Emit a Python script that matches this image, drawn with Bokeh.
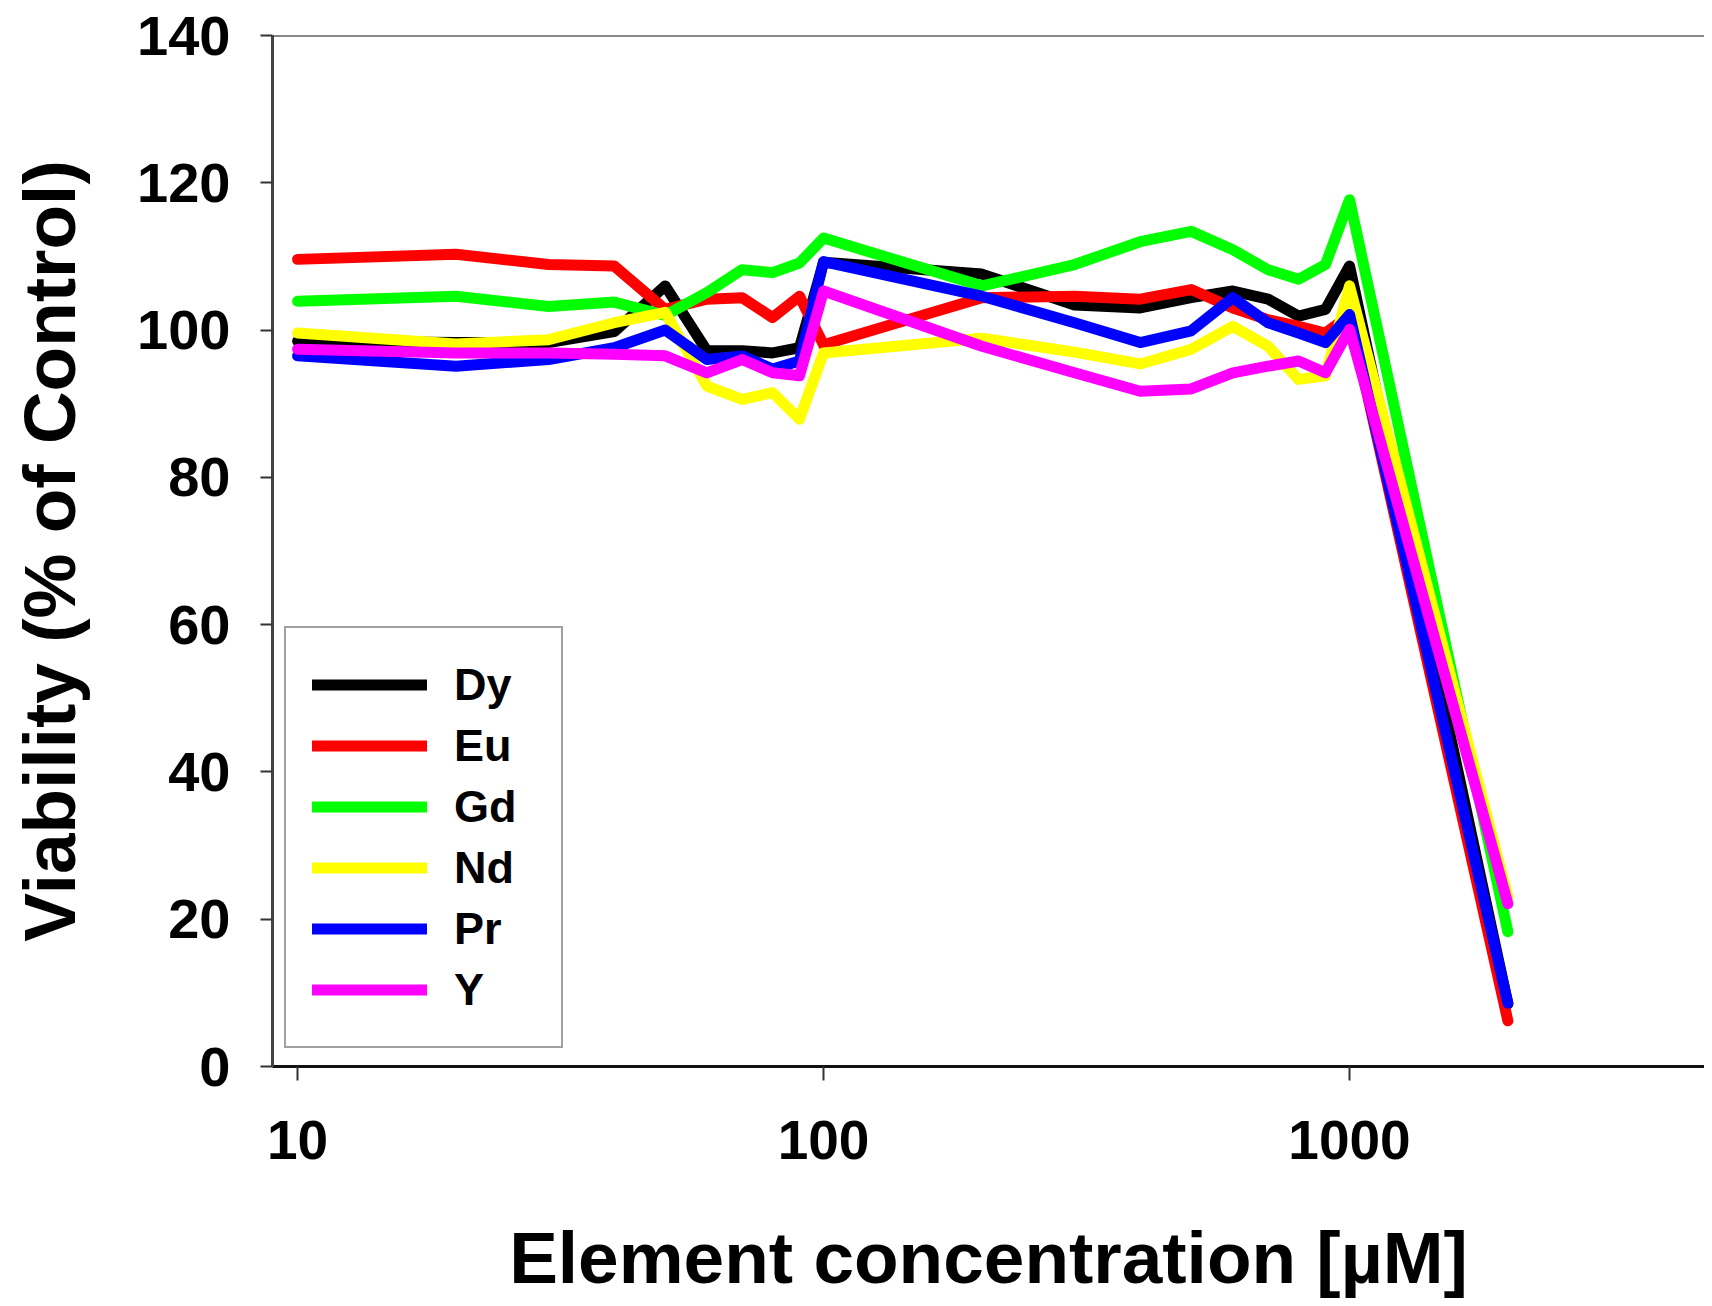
from bokeh.plotting import figure
from bokeh.models import (Range1d, FixedTicker, Legend, LegendItem, Span, ColumnDataSource)
from bokeh.embed import file_html
from bokeh.resources import INLINE

# ---- data ----
conc = [10, 20, 30, 40, 50, 60, 70, 80, 90, 100, 200, 300, 400, 500, 600, 700, 800, 900, 1000, 2000]
dy = [98.5, 98.3, 98.3, 99.8, 106.0, 97.2, 97.2, 96.9, 97.6, 109.2, 107.6, 103.4, 103.0, 104.4, 105.3, 104.2, 101.9, 102.8, 108.7, 8.5]
eu = [109.6, 110.3, 108.9, 108.7, 102.8, 104.2, 104.4, 101.7, 104.6, 98.0, 104.4, 104.6, 104.2, 105.5, 103.0, 101.4, 100.5, 99.6, 102.0, 6.2]
gd = [103.9, 104.6, 103.2, 103.8, 102.0, 105.1, 108.2, 107.8, 109.1, 112.5, 106.0, 108.9, 112.0, 113.4, 110.9, 108.2, 106.9, 108.9, 117.7, 18.3]
nd = [99.6, 98.1, 98.7, 101.0, 102.4, 92.4, 90.6, 91.5, 87.9, 96.9, 98.9, 97.0, 95.4, 97.4, 100.5, 97.8, 93.3, 93.8, 106.0, 23.0]
pr = [96.5, 95.1, 96.0, 97.6, 100.0, 96.0, 96.5, 94.7, 95.8, 109.3, 104.6, 101.0, 98.3, 99.9, 104.4, 101.0, 99.6, 98.3, 102.1, 8.6]
yy = [97.4, 96.9, 96.9, 96.7, 96.5, 94.2, 96.0, 94.2, 93.8, 105.3, 97.8, 94.2, 91.7, 92.0, 94.2, 95.1, 95.8, 94.2, 100.1, 22.1]

series_names = ["Dy", "Eu", "Gd", "Nd", "Pr", "Y"]
series_values = [dy, eu, gd, nd, pr, yy]
series_colors = ["#000000", "#ff0000", "#00ff00", "#ffff00", "#0000ff", "#ff00ff"]

x_ticks = [10, 100, 1000]
x_tick_labels = ["10", "100", "1000"]
y_ticks = [0, 20, 40, 60, 80, 100, 120, 140]

FONT = "Liberation Sans"

p = figure(width=1704, height=1300, x_axis_type="log",
           x_range=Range1d(8.96, 4730), y_range=Range1d(0, 140),
           output_backend="svg", toolbar_location=None,
           min_border_left=272, min_border_right=0, min_border_top=35, min_border_bottom=230)
p.outline_line_color = None
p.xgrid.visible = False
p.ygrid.visible = False
p.background_fill_color = "white"
p.border_fill_color = "white"

renderers = []
for name, vals, col in zip(series_names, series_values, series_colors):
    src = ColumnDataSource(dict(x=conc, y=vals))
    r = p.line("x", "y", source=src, line_color=col, line_width=11,
               line_join="round", line_cap="round")
    renderers.append(r)

# top frame line
p.add_layout(Span(location=140, dimension="width", line_color="#111111", line_width=2))

# axes
xa = p.xaxis[0]
xa.ticker = FixedTicker(ticks=x_ticks, minor_ticks=[])
xa.major_label_overrides = {t: l for t, l in zip(x_ticks, x_tick_labels)}
xa.axis_label = "Element concentration [µM]"
xa.axis_line_width = 3
xa.axis_line_color = "#111111"
xa.major_tick_out = 14
xa.major_tick_in = 0
xa.major_tick_line_width = 2
xa.major_tick_line_color = "#333333"
xa.minor_tick_line_color = None
xa.major_label_text_font = FONT
xa.major_label_text_font_style = "bold"
xa.major_label_text_font_size = "55px"
xa.major_label_text_color = "black"
xa.major_label_standoff = 40
xa.axis_label_text_font = FONT
xa.axis_label_text_font_style = "bold"
xa.axis_label_text_font_size = "73px"
xa.axis_label_text_color = "black"
xa.axis_label_standoff = 55

ya = p.yaxis[0]
ya.ticker = FixedTicker(ticks=y_ticks, minor_ticks=[])
ya.axis_label = "Viability (% of Control)"
ya.axis_line_width = 3
ya.axis_line_color = "#444444"
ya.major_tick_out = 12
ya.major_tick_in = 0
ya.major_tick_line_width = 2
ya.major_tick_line_color = "#333333"
ya.minor_tick_line_color = None
ya.major_label_text_font = FONT
ya.major_label_text_font_style = "bold"
ya.major_label_text_font_size = "56px"
ya.major_label_text_color = "black"
ya.major_label_standoff = 30
ya.axis_label_text_font = FONT
ya.axis_label_text_font_style = "bold"
ya.axis_label_text_font_size = "73px"
ya.axis_label_text_color = "black"
ya.axis_label_standoff = 44

legend = Legend(items=[LegendItem(label=n, renderers=[r]) for n, r in zip(series_names, renderers)],
                location=(12, 18), orientation="vertical",
                label_text_font=FONT, label_text_font_style="bold",
                label_text_font_size="45px", label_text_color="black",
                glyph_width=115, glyph_height=61, label_height=61, label_width=81,
                label_standoff=27,
                spacing=0, padding=26, margin=0,
                border_line_color="#444444", border_line_width=2,
                background_fill_color="white", background_fill_alpha=1.0)
p.add_layout(legend, "center")

open("out.html", "w").write(file_html(p, INLINE))
